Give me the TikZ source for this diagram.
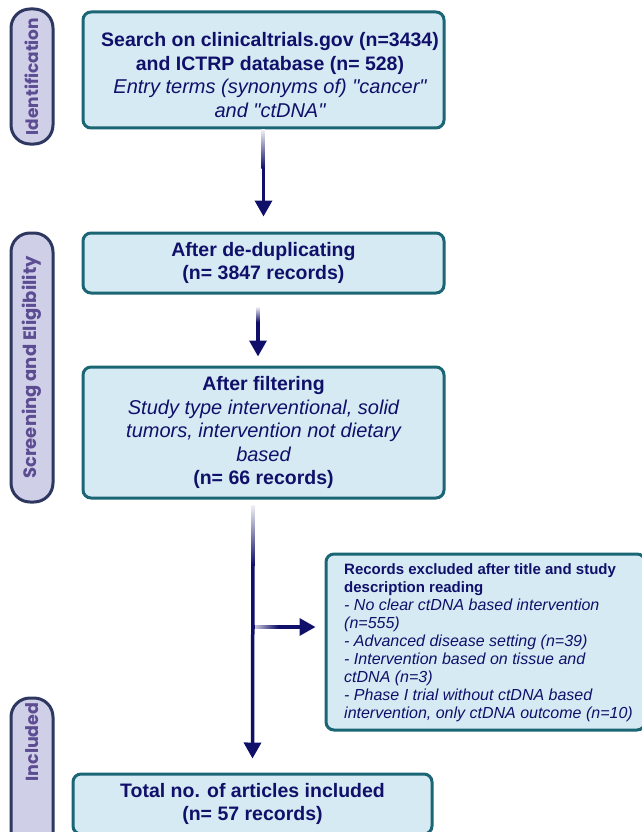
\documentclass[tikz,border=0pt]{standalone}
\usepackage{fontspec}
\setmainfont{Liberation Sans}
\newfontfamily\pillfont{Poppins}
\usetikzlibrary{arrows.meta}
\definecolor{navy}{RGB}{16,16,106}
\definecolor{boxfill}{RGB}{214,234,243}
\definecolor{boxline}{RGB}{26,102,117}
\definecolor{pillfill}{RGB}{208,207,232}
\definecolor{pillline}{RGB}{45,55,95}
\definecolor{pilltext}{RGB}{92,76,146}
\newcommand{\itbig}[1]{{\fontsize{20}{23.5}\selectfont\itshape #1}}
\newcommand{\itsmall}[1]{{\fontsize{16}{18}\selectfont\itshape #1}}
\newcommand{\qq}{\textquotedbl}
\begin{document}
\begin{tikzpicture}[x=1pt,y=-1pt,
  box/.style={draw=boxline, line width=3pt, fill=boxfill, rounded corners=8pt,
    text=navy, align=center, inner sep=0pt, font=\fontsize{19.5}{23.5}\selectfont},
  pill/.style={draw=pillline, line width=3pt, fill=pillfill, rounded corners=19pt,
    minimum width=42pt, inner sep=0pt},
  pilllabel/.style={rotate=90, text=pilltext, inner sep=0pt,
    font=\pillfont\bfseries\fontsize{17}{20}\selectfont},
  arr/.style={draw=navy, line width=3.5pt, -{Triangle[width=17pt,length=16pt]}},
  fadev/.style={top color=navy!6, bottom color=navy},
  fadeh/.style={left color=navy!25, right color=navy},
]
\useasboundingbox (0,0) rectangle (641,832);

% phase pills
\node[pill, minimum height=135pt] (p1) at (32,76.5) {};
\node[pilllabel] (p1t) at (p1.center) {Identification};
\node[pill, minimum height=269pt] (p2) at (32,367.5) {};
\node[pilllabel, font=\pillfont\bfseries\fontsize{18}{20}\selectfont] (p2t) at (p2.center) {Screening and Eligibility};
\node[pill, minimum height=172pt] (p3) at (32,784) {};
\node[pilllabel, font=\pillfont\bfseries\fontsize{17.5}{20}\selectfont] (p3t) at (32,742) {Included};

% boxes
\node[box, minimum width=361pt, minimum height=116pt] (b1) at (263.5,70) {};
\node[text=navy, align=center, inner sep=0pt, font=\fontsize{19.5}{23.5}\selectfont] (b1t) at (270,75)
  {\textbf{Search on clinicaltrials.gov (n=3434)}\\
   \textbf{and ICTRP database (n= 528)}\\
   \itbig{Entry terms (synonyms of) \qq cancer\qq}\\
   \itbig{and \qq ctDNA\qq}};

\node[box, minimum width=361pt, minimum height=60pt] (b2) at (263.5,263)
  {\textbf{After de-duplicating}\\ \textbf{(n= 3847 records)}};

\node[box, minimum width=361pt, minimum height=131pt] (b3) at (263.5,432.5)
  {\textbf{After filtering}\\
   \itbig{Study type interventional, solid}\\
   \itbig{tumors, intervention not dietary}\\
   \itbig{based}\\
   \textbf{(n= 66 records)}};

\node[box, minimum width=359pt, minimum height=60pt] (b4) at (252.5,804)
  {\textbf{Total no. of articles included}\\ \textbf{(n= 57 records)}};

\node[box, minimum width=319pt, minimum height=176pt] (ex) at (485.5,642) {};
\node[anchor=west, text=navy, align=left, inner sep=0pt,
      font=\fontsize{15}{18}\selectfont] (ext) at (344,643)
  {\textbf{Records excluded after title and study}\\
   \textbf{description reading}\\
   \itsmall{- No clear ctDNA based intervention}\\
   \itsmall{(n=555)}\\
   \itsmall{- Advanced disease setting (n=39)}\\
   \itsmall{- Intervention based on tissue and}\\
   \itsmall{ctDNA (n=3)}\\
   \itsmall{- Phase I trial without ctDNA based}\\
   \itsmall{intervention, only ctDNA outcome (n=10)}};

% connectors
\draw[arr] ([yshift=-2pt]b1.south) -- ([yshift=15pt]b2.north);
\shade[fadev] (261.25,129.5) rectangle (264.75,168);

\draw[arr] ([xshift=-5.5pt,yshift=-14pt]b2.south) -- ([xshift=-5.5pt,yshift=9pt]b3.north);
\shade[fadev] (256.25,307) rectangle (259.75,322);

\coordinate (j) at (253,627);
\draw[arr] ([xshift=-10.5pt,yshift=-7pt]b3.south) -- ([yshift=14pt]b4.north);
\shade[fadev] (251.25,505) rectangle (254.75,565);

\draw[arr] (j) -- ([xshift=-9pt]j -| ex.west);
\shade[fadeh] (255,625.25) rectangle (278,628.75);
\end{tikzpicture}
\end{document}
